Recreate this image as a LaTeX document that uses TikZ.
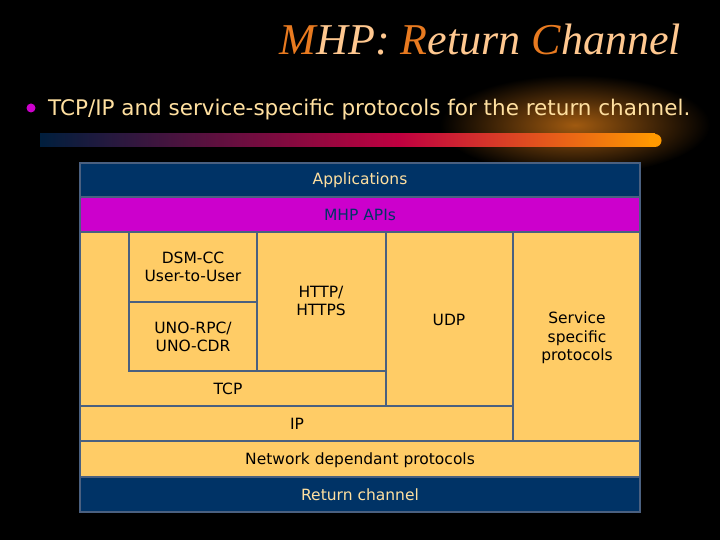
\documentclass[tikz,border=0pt]{standalone}
\usepackage{fontspec}
\setmainfont{Liberation Serif}
\newfontfamily\vf{DejaVu Sans}
\definecolor{navy}{HTML}{003366}
\definecolor{mag}{HTML}{CC00CC}
\definecolor{peach}{HTML}{FFCC66}
\definecolor{edge}{HTML}{4A6080}
\definecolor{ltx}{HTML}{FFE0A0}
\definecolor{ttl}{HTML}{FFC890}
\definecolor{org}{HTML}{E87A20}
\definecolor{glow}{HTML}{A05A10}
\begin{document}
\begin{tikzpicture}[x=1pt,y=-1pt,
  cell/.style={draw=edge,line width=2.2pt,fill=peach},
  lab/.style={font=\vf\fontsize{15.5}{18.5}\selectfont,align=center,text=black}]
\useasboundingbox (0,0) rectangle (720,540);
\fill[black] (0,0) rectangle (720,540);
% glow
\shade[inner color=glow,outer color=black] (575,125) ellipse (135 and 50);
\shade[left color=navy!60!black,right color=purple] (40,134) rectangle (400,147);
\shade[left color=purple,right color=orange!80!yellow] (400,134) rectangle (655,147);
\fill[orange!80!yellow] (655,140.5) circle (6.5);
% title
\node[anchor=base east,font=\itshape\fontsize{44}{50}\selectfont,inner sep=0] (title) at (681,55)
  {\textcolor{org}{M}\textcolor{ttl}{HP: }\textcolor{org}{R}\textcolor{ttl}{eturn }\textcolor{org}{C}\textcolor{ttl}{hannel}};
\fill[mag] (31,108) circle (4.5);
\node[anchor=base west,font=\vf\fontsize{21.5}{24}\selectfont,text=ltx,inner sep=0] (bul) at (48,116)
  {TCP/IP and service-specific protocols for the return channel.};
% diagram
\draw[cell] (80,232) rectangle (640,477);
\draw[cell,fill=navy] (80,163) rectangle (640,197);
\node[lab,text=ltx] (app) at (360,180) {Applications};
\draw[cell,fill=mag] (80,197) rectangle (640,232);
\node[lab,text=navy] (api) at (360,215) {MHP APIs};
\draw[cell] (129,232) rectangle (257,302);
\node[lab] (dsm) at (193,267) {DSM-CC\\User-to-User};
\draw[cell] (129,302) rectangle (257,371);
\node[lab] (uno) at (193,337) {UNO-RPC/\\UNO-CDR};
\draw[cell] (257,232) rectangle (386,371);
\node[lab] (http) at (321,301) {HTTP/\\HTTPS};
\draw[cell] (386,232) rectangle (513,406);
\node[lab] (udp) at (449,320) {UDP};
\draw[cell] (513,232) rectangle (640,441);
\node[lab] (svc) at (577,338) {Service\\specific\\protocols};
\draw[edge,line width=2.2pt] (80,406) -- (386,406);
\node[lab] (tcp) at (228,389) {TCP};
\draw[cell] (80,406) rectangle (513,441);
\node[lab] (ip) at (297,424) {IP};
\draw[cell] (80,441) rectangle (640,477);
\node[lab] (net) at (360,460) {Network dependant protocols};
\draw[cell,fill=navy] (80,477) rectangle (640,512);
\node[lab,text=ltx] (ret) at (360,495) {Return channel};
\end{tikzpicture}
\end{document}
